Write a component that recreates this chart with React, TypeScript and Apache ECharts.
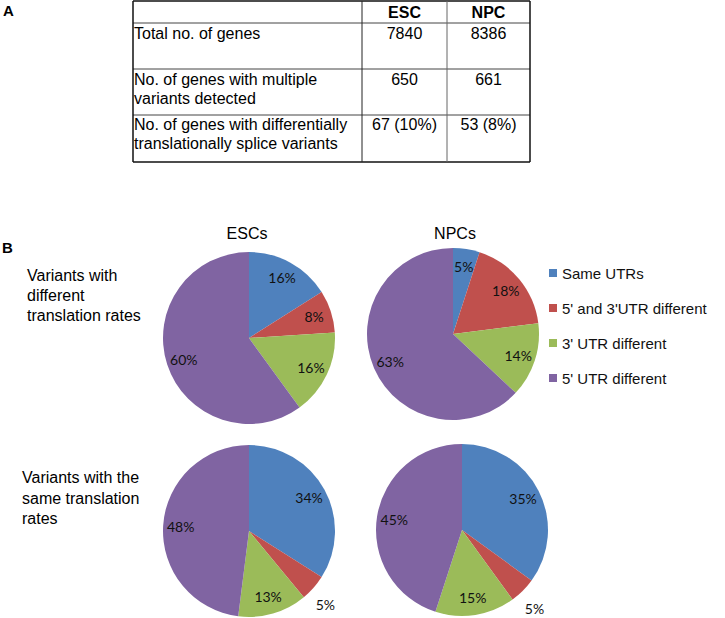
import React, { useEffect, useRef } from "react";
import * as echarts from "echarts";

// ---------- data ----------
const categories = ["Same UTRs", "5' and 3'UTR different", "3' UTR different", "5' UTR different"];
const colors = ["#4F81BD", "#C0504D", "#9BBB59", "#8064A2"];

const escDifferent = [16, 8, 16, 60];
const npcDifferent = [5, 18, 14, 63];
const escSame = [34, 5, 13, 48];
const npcSame = [35, 5, 15, 45];

const pieTitles = ["ESCs", "NPCs"];
const rowTitles = ["Variants with\ndifferent\ntranslation rates", "Variants with the\nsame translation\nrates"];

const tableHeaders = ["", "ESC", "NPC"];
const tableRowLabels = [
  "Total no. of genes",
  "No. of genes with multiple\nvariants detected",
  "No. of genes with differentially\ntranslationally splice variants",
];
const tableEsc = ["7840", "650", "67 (10%)"];
const tableNpc = ["8386", "661", "53 (8%)"];

// ---------- layout ----------
const W = 725;
const H = 618;
const R = 86;
const FONT = '"Liberation Sans", Arial, sans-serif';
const tableCols = [133, 362, 447, 530];
const tableRows = [1, 23, 69, 115, 162];

function pieSeries(values: number[], center: [number, number], outsideOffset?: [number, number]) {
  const data = values.map((v, i) => ({ name: categories[i], value: v, itemStyle: { color: colors[i] } }));
  const main: any = {
    type: "pie",
    radius: R,
    center,
    startAngle: 90,
    clockwise: true,
    avoidLabelOverlap: false,
    silent: true,
    label: { show: false },
    labelLine: { show: false },
    itemStyle: { borderWidth: 0 },
    emphasis: { disabled: true },
    data,
  };
  const overlay: any = {
    type: "pie",
    radius: [45, R],
    center,
    startAngle: 90,
    clockwise: true,
    avoidLabelOverlap: false,
    silent: true,
    labelLine: { show: false },
    itemStyle: { color: "rgba(0,0,0,0)", borderWidth: 0 },
    emphasis: { disabled: true },
    label: {
      show: true,
      position: "inside",
      formatter: "{c}%",
      fontFamily: "Lato, sans-serif",
      fontSize: 14,
      color: "#111",
    },
    data: values.map((v, i) => ({ name: categories[i], value: v })),
  };
  if (outsideOffset) {
    overlay.labelLayout = (p: any) => (p.dataIndex === 1 ? { dx: outsideOffset[0], dy: outsideOffset[1] } : {});
  }
  return [main, overlay];
}

function txt(text: string, x: number, y: number, opts: any = {}) {
  return {
    type: "text",
    x,
    y,
    silent: true,
    style: {
      text,
      font: opts.font || `16px ${FONT}`,
      fill: opts.fill || "#000",
      textAlign: opts.align || "left",
      align: opts.align || "left",
      textVerticalAlign: opts.valign || "top",
      verticalAlign: opts.valign || "top",
      lineHeight: opts.lineHeight || 19,
    },
  };
}

function buildGraphic() {
  const g: any[] = [];
  // panel letters
  g.push(txt("A", 3, 10, { font: `bold 15px ${FONT}`, valign: "middle" }));
  g.push(txt("B", 2, 247, { font: `bold 15px ${FONT}`, valign: "middle" }));

  // table lines
  const x0 = tableCols[0];
  const x1 = tableCols[tableCols.length - 1];
  tableRows.forEach((y, i) => {
    const outer = i === 0 || i === tableRows.length - 1;
    g.push({
      type: "line",
      silent: true,
      shape: { x1: x0, y1: y, x2: x1, y2: y },
      style: { stroke: outer ? "#111" : "#444", lineWidth: outer ? 1.5 : 1 },
    });
  });
  tableCols.forEach((x, i) => {
    const outer = i === 0 || i === tableCols.length - 1;
    g.push({
      type: "line",
      silent: true,
      shape: { x1: x, y1: tableRows[0], x2: x, y2: tableRows[tableRows.length - 1] },
      style: { stroke: outer ? "#111" : i === 1 ? "#222" : "#666", lineWidth: outer ? 1.5 : 1 },
    });
  });
  // headers
  tableHeaders.forEach((h, i) => {
    if (!h) return;
    const cx = (tableCols[i] + tableCols[i + 1]) / 2;
    g.push(txt(h, cx, 12, { font: `bold 16px ${FONT}`, align: "center", valign: "middle" }));
  });
  // rows
  const rowOffsets = [10, 10, 9];
  tableRowLabels.forEach((label, r) => {
    const top = tableRows[r + 1] + rowOffsets[r] - 9.5;
    g.push(txt(label, tableCols[0] + 1, top, { lineHeight: 19 }));
    g.push(txt(tableEsc[r], (tableCols[1] + tableCols[2]) / 2, top, { align: "center", lineHeight: 19 }));
    g.push(txt(tableNpc[r], (tableCols[2] + tableCols[3]) / 2, top, { align: "center", lineHeight: 19 }));
  });

  // pie titles
  g.push(txt(pieTitles[0], 247, 233, { align: "center", valign: "middle" }));
  g.push(txt(pieTitles[1], 455, 233, { align: "center", valign: "middle" }));

  // row titles
  g.push(txt(rowTitles[0], 27, 265, { lineHeight: 20 }));
  g.push(txt(rowTitles[1], 22, 467.5, { lineHeight: 20.5 }));
  return g;
}

export default function App() {
  const ref = useRef<HTMLDivElement>(null);
  useEffect(() => {
    document.body.style.margin = "0";
    if (!ref.current) return;
    const chart = echarts.init(ref.current, null, { renderer: "svg" });
    const option: any = {
      animation: false,
      backgroundColor: "#ffffff",
      legend: {
        orient: "vertical",
        left: 544,
        top: 260.5,
        itemWidth: 8,
        itemHeight: 8,
        itemGap: 20,
        icon: "rect",
        selectedMode: false,
        textStyle: { fontFamily: FONT, fontSize: 15, color: "#111", lineHeight: 15 },
        data: categories.map((c, i) => ({ name: c, itemStyle: { color: colors[i] } })),
      },
      graphic: buildGraphic(),
      series: [
        ...pieSeries(escDifferent, [249, 338]),
        ...pieSeries(npcDifferent, [453, 334]),
        ...pieSeries(escSame, [249, 531], [25, 28]),
        ...pieSeries(npcSame, [462, 530], [24, 30]),
      ],
    };
    chart.setOption(option);
    return () => chart.dispose();
  }, []);
  return <div ref={ref} style={{ width: W, height: H }} />;
}
